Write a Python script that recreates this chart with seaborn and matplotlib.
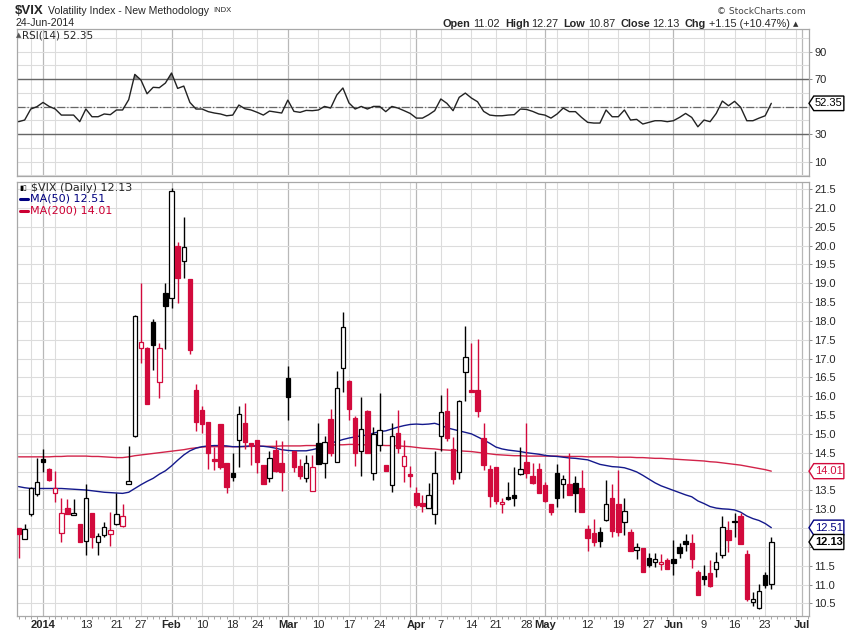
import matplotlib
matplotlib.use("Agg")
import matplotlib.pyplot as plt
from matplotlib.patches import Polygon
from matplotlib.lines import Line2D
import numpy as np
import pandas as pd
import seaborn as sns

W, H = 850, 633

# trading-day index: 0 = 2 Jan 2014, -4 = 26 Dec 2013, 119 = 24 Jun 2014
day_index = list(range(-4, 120))

opens = [12.49, 12.20, 12.86, 13.40,
         14.32, 14.06, 13.42, 12.38, 13.04, 12.85, 12.61, 12.16, 12.89, 12.14, 12.32, 12.34, 12.62, 12.56,
         13.66, 14.95, 17.29, 17.29, 17.96, 16.37, 18.73, 18.60, 20.00, 19.60, 19.10, 16.16, 15.63, 15.31,
         14.34, 15.25, 14.22, 13.95, 14.85, 15.28, 14.75, 14.84, 14.17, 13.82, 14.57, 14.22, 16.47, 14.55,
         14.15, 13.82, 13.49, 14.77, 14.22, 15.40, 14.26, 16.74, 16.40, 15.42, 14.55, 15.62, 13.95, 14.70,
         14.17, 13.64, 15.01, 14.15, 13.89, 13.42, 13.17, 13.02, 12.86, 14.95, 15.61, 14.60, 13.98, 16.65,
         16.16, 16.16, 14.88, 14.08, 14.11, 13.13, 13.33, 13.38, 13.93, 14.26, 13.88, 14.06, 13.64, 13.15,
         13.95, 13.66, 13.66, 13.69, 13.55, 12.47, 12.36, 12.40, 12.71, 13.31, 13.15, 12.67, 12.40, 11.93,
         11.96, 11.70, 11.59, 11.55, 11.65, 11.68, 12.00, 12.15, 12.09, 11.34, 11.23, 11.30, 11.40, 11.78,
         12.45, 12.66, 12.82, 11.81, 10.54, 10.39, 11.25, 11.02]
highs = [12.50, 12.61, 13.60, 14.37,
         14.61, 14.10, 14.01, 13.29, 13.27, 13.26, 12.62, 13.67, 12.90, 12.38, 12.67, 12.92, 13.42, 13.15,
         14.69, 18.16, 19.00, 17.30, 18.04, 17.40, 19.00, 21.52, 20.08, 20.77, 19.10, 16.32, 15.75, 15.31,
         14.66, 15.25, 14.22, 14.50, 15.74, 15.83, 14.76, 14.84, 14.17, 14.55, 14.84, 14.81, 16.80, 14.55,
         14.32, 14.44, 14.44, 15.28, 14.94, 15.65, 16.67, 18.23, 16.43, 15.47, 15.97, 15.63, 15.17, 16.09,
         14.17, 15.28, 15.63, 14.85, 14.15, 13.58, 13.38, 13.70, 14.55, 16.03, 16.21, 14.92, 15.90, 17.86,
         17.42, 17.51, 15.28, 14.17, 14.11, 13.29, 13.73, 14.13, 14.66, 15.28, 14.22, 14.22, 13.73, 13.15,
         14.20, 13.91, 14.48, 13.88, 14.04, 12.58, 12.73, 12.53, 13.78, 13.67, 14.04, 13.29, 12.47, 12.09,
         11.96, 11.83, 11.85, 11.81, 11.70, 12.18, 12.09, 12.34, 12.34, 11.38, 11.52, 11.65, 11.87, 12.82,
         12.70, 12.89, 12.90, 11.92, 10.81, 11.01, 11.34, 12.27]
lows = [11.70, 12.20, 12.83, 13.36,
        14.00, 13.75, 13.20, 12.14, 12.86, 12.84, 12.14, 11.78, 11.96, 11.78, 12.27, 12.03, 12.58, 12.54,
        13.66, 14.92, 16.87, 15.78, 16.70, 15.96, 17.25, 18.35, 18.47, 19.15, 17.11, 15.08, 15.01, 14.08,
        14.04, 14.08, 13.44, 13.76, 14.11, 14.61, 14.17, 13.97, 13.66, 13.73, 14.00, 13.49, 15.38, 13.99,
        13.80, 13.73, 13.49, 14.19, 13.84, 14.41, 14.24, 16.10, 15.38, 14.15, 13.89, 14.50, 13.78, 14.55,
        14.01, 13.45, 14.48, 13.73, 13.58, 13.05, 12.92, 13.02, 12.60, 14.55, 14.82, 13.67, 13.80, 15.88,
        16.10, 15.46, 14.04, 13.07, 13.14, 12.89, 13.24, 13.08, 13.90, 13.82, 13.67, 13.42, 13.20, 12.85,
        13.07, 13.29, 13.39, 12.92, 12.92, 11.90, 12.03, 12.00, 12.70, 12.25, 12.29, 12.31, 11.90, 11.67,
        11.34, 11.47, 11.47, 11.39, 11.40, 11.25, 11.71, 11.90, 11.43, 10.72, 10.99, 10.93, 11.19, 11.70,
        11.87, 12.27, 12.07, 10.55, 10.43, 10.34, 10.90, 10.87]
closes = [12.33, 12.47, 13.55, 13.71,
          14.24, 13.78, 13.56, 12.91, 12.86, 12.89, 12.14, 13.29, 12.27, 12.30, 12.52, 12.45, 12.86, 12.83,
          13.76, 18.14, 17.43, 15.79, 17.35, 17.29, 18.40, 21.44, 19.13, 19.97, 17.23, 15.31, 15.25, 14.50,
          14.29, 14.13, 13.58, 13.86, 15.52, 14.79, 14.68, 14.24, 13.66, 14.35, 14.02, 13.98, 15.99, 14.11,
          13.89, 14.22, 14.11, 14.19, 14.79, 14.48, 16.23, 17.83, 15.65, 14.50, 15.12, 14.50, 15.00, 15.10,
          14.02, 14.94, 14.62, 14.41, 13.88, 13.11, 13.09, 13.38, 13.95, 15.57, 14.88, 13.80, 15.88, 17.03,
          16.11, 15.62, 14.17, 13.35, 13.23, 13.20, 13.26, 13.31, 14.06, 13.97, 13.70, 13.42, 13.23, 12.92,
          13.29, 13.79, 13.39, 13.42, 12.92, 12.23, 12.12, 12.16, 13.15, 12.43, 12.40, 12.96, 11.90, 12.00,
          11.34, 11.52, 11.68, 11.56, 11.40, 11.56, 11.85, 12.07, 11.67, 10.72, 11.14, 10.96, 11.59, 12.54,
          12.18, 12.65, 12.07, 10.61, 10.62, 10.84, 10.98, 12.13]

ma50 = [13.60, 13.57, 13.55, 13.55,
        13.55, 13.55, 13.55, 13.55, 13.54, 13.53, 13.52, 13.51, 13.49, 13.47, 13.45, 13.44, 13.43, 13.42,
        13.45, 13.55, 13.65, 13.74, 13.82, 13.93, 14.02, 14.15, 14.30, 14.44, 14.55, 14.62, 14.66, 14.68,
        14.69, 14.69, 14.68, 14.66, 14.66, 14.67, 14.68, 14.68, 14.67, 14.65, 14.62, 14.58, 14.56, 14.55,
        14.55, 14.55, 14.58, 14.62, 14.68, 14.75, 14.80, 14.85, 14.89, 14.92, 14.95, 14.97, 15.02, 15.06,
        15.08, 15.13, 15.18, 15.22, 15.25, 15.26, 15.25, 15.26, 15.28, 15.23, 15.16, 15.12, 15.08, 15.04,
        15.00, 14.92, 14.84, 14.75, 14.65, 14.60, 14.57, 14.55, 14.53, 14.50, 14.48, 14.46, 14.43, 14.41,
        14.40, 14.38, 14.36, 14.35, 14.33, 14.31, 14.25, 14.19, 14.16, 14.13, 14.12, 14.10, 14.05, 13.99,
        13.90, 13.80, 13.70, 13.62, 13.56, 13.50, 13.44, 13.38, 13.33, 13.22, 13.15, 13.07, 13.03, 13.01,
        13.00, 12.98, 12.92, 12.82, 12.75, 12.70, 12.62, 12.51]
ma200 = [14.39, 14.39, 14.39, 14.39,
         14.39, 14.39, 14.40, 14.40, 14.41, 14.41, 14.41, 14.41, 14.40, 14.40, 14.39, 14.38, 14.37, 14.37,
         14.39, 14.42, 14.44, 14.46, 14.48, 14.50, 14.52, 14.54, 14.56, 14.58, 14.61, 14.63, 14.65, 14.66,
         14.66, 14.66, 14.66, 14.66, 14.66, 14.66, 14.67, 14.67, 14.67, 14.67, 14.67, 14.68, 14.68, 14.68,
         14.68, 14.69, 14.69, 14.69, 14.70, 14.70, 14.71, 14.71, 14.72, 14.72, 14.71, 14.71, 14.70, 14.70,
         14.69, 14.69, 14.68, 14.67, 14.66, 14.64, 14.62, 14.61, 14.60, 14.58, 14.57, 14.56, 14.55, 14.54,
         14.53, 14.51, 14.49, 14.47, 14.45, 14.44, 14.43, 14.42, 14.42, 14.41, 14.41, 14.41, 14.41, 14.41,
         14.41, 14.40, 14.40, 14.40, 14.40, 14.39, 14.39, 14.39, 14.39, 14.39, 14.38, 14.38, 14.38, 14.37,
         14.37, 14.36, 14.35, 14.35, 14.34, 14.33, 14.32, 14.31, 14.30, 14.29, 14.28, 14.26, 14.25, 14.23,
         14.21, 14.19, 14.17, 14.14, 14.11, 14.08, 14.05, 14.01]
rsi14 = [39.0, 40.2, 48.2, 49.9,
         53.0, 50.1, 48.2, 43.8, 43.8, 43.8, 39.0, 48.2, 42.6, 42.6, 44.6, 44.1, 47.5, 47.5,
         55.0, 73.4, 69.3, 59.3, 64.0, 63.7, 67.1, 74.4, 63.2, 64.9, 53.0, 48.2, 48.2, 46.3,
         45.3, 44.6, 43.3, 43.8, 51.1, 48.4, 47.5, 45.8, 43.8, 46.7, 46.0, 45.3, 54.7, 46.5,
         45.8, 47.2, 47.0, 47.5, 50.1, 48.9, 58.4, 63.5, 52.6, 48.2, 50.1, 48.2, 50.1, 50.1,
         46.3, 50.1, 48.9, 47.0, 45.0, 41.6, 41.6, 44.0, 47.0, 55.5, 52.3, 47.0, 56.7, 59.8,
         56.2, 53.5, 46.5, 43.8, 43.3, 43.3, 43.8, 44.1, 48.2, 47.9, 46.5, 44.6, 43.8, 41.6,
         44.6, 48.9, 46.3, 46.3, 42.1, 38.5, 38.0, 38.0, 47.5, 42.6, 42.6, 47.5, 40.2, 40.7,
         37.3, 38.5, 39.7, 39.7, 39.0, 39.7, 42.1, 45.0, 42.1, 35.3, 40.2, 39.0, 45.0, 54.0,
         50.6, 53.8, 49.4, 39.7, 39.7, 41.6, 43.3, 52.35]

# x axis: labelled days, week starts, month starts
tick_pos = [0, 7, 12, 16, 21, 26, 31, 35, 40, 45, 50, 55, 61, 65, 70, 74, 79, 82, 89, 94, 99, 103, 108, 113, 118, 124]
tick_lab = ['2014', '13', '21', '27', 'Feb', '10', '18', '24', 'Mar', '10', '17', '24', 'Apr', '7', '14', '21', '28',
            'May', '12', '19', '27', 'Jun', '9', '16', '23', 'Jul']
week_pos = [-2, 2, 7, 12, 16, 26, 31, 35, 45, 50, 55, 60, 65, 70, 74, 79, 84, 89, 94, 99, 108, 113, 118, 123]
month_pos = [0, 21, 40, 61, 82, 103, 124]

# price axis labels (the ones under the value tags are hidden)
price_ticks = [10.5, 11.0, 11.5, 12.0, 12.5, 13.0, 13.5, 14.0, 14.5, 15.0, 15.5, 16.0,
               16.5, 17.0, 17.5, 18.0, 18.5, 19.0, 19.5, 20.0, 20.5, 21.0, 21.5]
hidden_ticks = [12.0, 12.5, 14.0]

RED = '#d20a3c'
BLUE = '#14198c'
RED_MA = '#d2244a'

df = pd.DataFrame({'i': day_index, 'open': opens, 'high': highs, 'low': lows, 'close': closes,
                   'ma50': ma50, 'ma200': ma200, 'rsi': rsi14})
prev = df['close'].shift(1).fillna(df['open'])
df['edge'] = np.where(df['close'] > prev, 'black', RED)
df['face'] = np.where(df['close'] > df['open'], 'white', df['edge'])

sns.set_style("white")
plt.rcParams['font.family'] = ['Liberation Sans', 'DejaVu Sans']

fig = plt.figure(figsize=(W / 100, H / 100), dpi=100)
ax_l, ax_w = 16.7 / W, (809 - 16.7) / W
ax_rsi = fig.add_axes([ax_l, 1 - 176 / H, ax_w, 147 / H])
ax = fig.add_axes([ax_l, 1 - 616 / H, ax_w, (616 - 181.7) / H])
XMIN, XMAX = -4.3, 125.16

for a in (ax, ax_rsi):
    a.set_xlim(XMIN, XMAX)
    for p in week_pos:
        a.axvline(p, color='#dcdcdc', lw=0.8, zorder=0)
    for p in month_pos:
        a.axvline(p, color='#b8b8b8', lw=0.9, zorder=0)
    for s in a.spines.values():
        s.set_color('#a8a8a8')
        s.set_linewidth(0.9)
    a.yaxis.tick_right()
    a.tick_params(axis='y', length=2.5, width=0.7, color='#888888', pad=1.5, labelsize=8)

# ---- RSI panel
ax_rsi.set_ylim(-0.5, 106.4)
for v in range(0, 101, 10):
    ax_rsi.axhline(v, color='#dcdcdc', lw=0.8, zorder=0)
ax_rsi.axhline(70, color='#666666', lw=1.0, zorder=1)
ax_rsi.axhline(30, color='#666666', lw=1.0, zorder=1)
ax_rsi.axhline(50, color='#666666', lw=0.9, ls='-.', zorder=1)
r = df['rsi'].to_numpy()
ax_rsi.fill_between(df['i'], r, 70, where=r > 70, interpolate=True, color='#8c8c8c', lw=0, zorder=2)
sns.lineplot(data=df, x='i', y='rsi', ax=ax_rsi, color='#222222', lw=1.0, zorder=3)
ax_rsi.set_yticks([10, 30, 70, 90])
ax_rsi.set_yticklabels(['10', '30', '70', '90'])
ax_rsi.set_xticks([])
ax_rsi.set_xlabel('')
ax_rsi.set_ylabel('')

# ---- price panel
ax.set_ylim(10.165, 21.694)
for v in price_ticks:
    ax.axhline(v, color='#dcdcdc', lw=0.8, zorder=0)
sns.lineplot(data=df, x='i', y='ma200', ax=ax, color=RED_MA, lw=1.0, zorder=2)
sns.lineplot(data=df, x='i', y='ma50', ax=ax, color=BLUE, lw=1.0, zorder=2)

ax.vlines(df['i'], df['low'], df['high'], colors=df['edge'], lw=1.0, zorder=3)
body_lo = df[['open', 'close']].min(axis=1)
body_h = (df['open'] - df['close']).abs().clip(lower=0.05)
ax.bar(df['i'], body_h, bottom=body_lo, width=0.72, color=df['face'], edgecolor=df['edge'],
       linewidth=0.9, zorder=4)

ax.set_yticks(price_ticks)
ax.set_yticklabels(['' if v in hidden_ticks else '%.1f' % v for v in price_ticks])
ax.set_xticks(tick_pos)
ax.set_xticklabels(tick_lab)
for t, lab in zip(ax.get_xticklabels(), tick_lab):
    if lab in ('2014', 'Feb', 'Mar', 'Apr', 'May', 'Jun', 'Jul'):
        t.set_fontweight('bold')
ax.tick_params(axis='x', length=0, pad=3, labelsize=8)
ax.set_xticks(day_index + [120, 121, 122, 123, 124, 125], minor=True)
ax.tick_params(axis='x', which='minor', length=2, width=0.6, color='#999999', bottom=True)
ax.set_xlabel('')
ax.set_ylabel('')


def tag(a, yv, text, color, half_h, bold=False):
    x0, x1, x2 = 1.0, 1.006, 1.044
    poly = Polygon([[x0, yv], [x1, yv + half_h], [x2, yv + half_h], [x2, yv - half_h], [x1, yv - half_h]],
                   closed=True, transform=a.get_yaxis_transform(), facecolor='white', edgecolor=color,
                   lw=1.0, clip_on=False, zorder=10)
    a.add_patch(poly)
    a.text(1.0075, yv, text, transform=a.get_yaxis_transform(), va='center', ha='left', fontsize=8,
           color=color, fontweight='bold' if bold else 'normal', clip_on=False, zorder=11)


tag(ax, 14.01, '14.01', RED, 0.2)
tag(ax, 12.51, '12.51', '#000080', 0.2)
tag(ax, 12.13, '12.13', 'black', 0.2, bold=True)
tag(ax_rsi, 52.35, '52.35', 'black', 5.3)

# ---- legends inside panels
fig.text(22 / W, 1 - 35 / H, 'RSI(14) 52.35', fontsize=7.5, va='center', family='DejaVu Sans')
fig.text(15.5 / W, 1 - 35 / H, '▲', fontsize=5, va='center', color='#555555', family='DejaVu Sans')
fig.text(31 / W, 1 - 188 / H, '$VIX (Daily) 12.13', fontsize=8, va='center', family='DejaVu Sans')
fig.text(19 / W, 1 - 188 / H, '▮▯', fontsize=5, va='center', color='black', family='DejaVu Sans')
fig.text(29.5 / W, 1 - 199 / H, 'MA(50) 12.51', fontsize=8, va='center', color='#000080', family='DejaVu Sans')
fig.text(29.5 / W, 1 - 210.5 / H, 'MA(200) 14.01', fontsize=8, va='center', color='#cc0033', family='DejaVu Sans')
fig.add_artist(Line2D([19.5 / W, 28 / W], [1 - 199 / H] * 2, color='#000080', lw=2.2))
fig.add_artist(Line2D([19.5 / W, 28 / W], [1 - 210.5 / H] * 2, color='#cc0033', lw=2.2))

# ---- header
renderer = fig.canvas.get_renderer()


def row(x0, y, pieces):
    x = x0
    for s, kw, gap in pieces:
        t = fig.text(x / W, 1 - y / H, s, va='center', ha='left', **kw)
        x += t.get_window_extent(renderer=renderer).width + gap
    return x


row(15, 11, [('$VIX', dict(fontsize=9.5, fontweight='bold'), 4),
             ('Volatility Index - New Methodology', dict(fontsize=7.6), 4),
             ('INDX', dict(fontsize=5.5), 0)])
fig.text(15 / W, 1 - 23.5 / H, '24-Jun-2014', fontsize=7.6, va='center')
fig.text(806 / W, 1 - 11 / H, '© StockCharts.com', fontsize=6.5, va='center', ha='right', color='#444444',
         family='DejaVu Sans')
b = dict(fontsize=7.8, fontweight='bold')
n = dict(fontsize=7.8)
row(443, 24, [('Open', b, 2.5), ('11.02', n, 5), ('High', b, 2.5), ('12.27', n, 5), ('Low', b, 2.5),
              ('10.87', n, 5), ('Close', b, 2.5), ('12.13', n, 5), ('Chg', b, 2.5), ('+1.15 (+10.47%)', n, 3),
              ('▲', dict(fontsize=5, color='#333333', family='DejaVu Sans'), 0)])

fig.savefig('out.png', dpi=100)
